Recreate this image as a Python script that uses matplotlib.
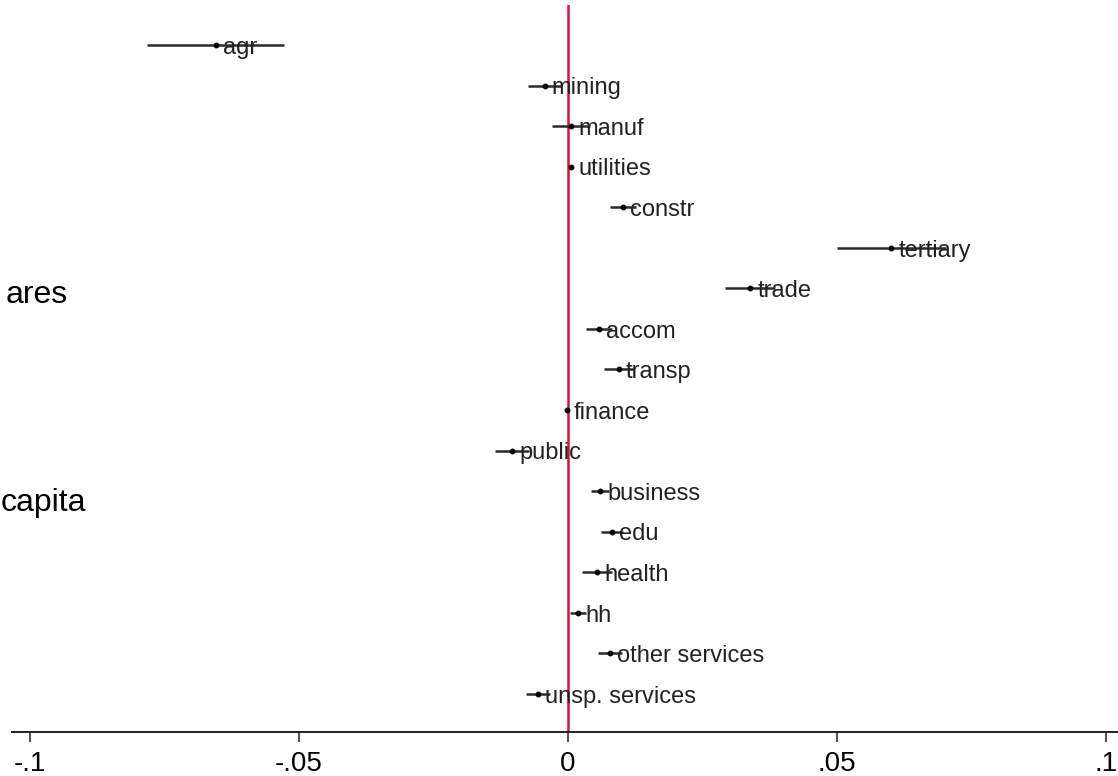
import matplotlib
matplotlib.use("Agg")
import matplotlib.pyplot as plt

plt.rcParams['font.family'] = ['Liberation Sans', 'DejaVu Sans']

labels = ["agr", "mining", "manuf", "utilities", "constr", "tertiary", "trade",
          "accom", "transp", "finance", "public", "business", "edu", "health",
          "hh", "other services", "unsp. services"]
coef = [-0.0655, -0.0043, 0.0006, 0.0006, 0.0102, 0.0601, 0.0339,
        0.0058, 0.0095, -0.0002, -0.0104, 0.0060, 0.0082, 0.0054,
        0.0019, 0.0078, -0.0056]
ci_lo = [-0.0783, -0.0074, -0.0030, 0.0003, 0.0078, 0.0500, 0.0292,
         0.0033, 0.0067, -0.0004, -0.0136, 0.0043, 0.0061, 0.0026,
         0.0004, 0.0056, -0.0078]
ci_hi = [-0.0527, -0.0011, 0.0040, 0.0009, 0.0126, 0.0702, 0.0385,
         0.0082, 0.0123, 0.0000, -0.0073, 0.0076, 0.0102, 0.0082,
         0.0033, 0.0100, -0.0033]
xticks = [-0.1, -0.05, 0, 0.05, 0.1]
xtick_labels = ["-.1", "-.05", "0", ".05", ".1"]
group_labels = ["ares", "capita"]

W, H = 1118, 776
fig = plt.figure(figsize=(W / 100, H / 100), dpi=100)
ax = fig.add_axes([12 / W, 1 - 732 / H, 1 - 12 / W, 727 / H])

rows = list(range(len(labels)))
ax.axvline(0, color="#d2163f", lw=1.8, zorder=1)
ax.hlines(rows, ci_lo, ci_hi, color="#2b2b2b", lw=1.8, zorder=2)
ax.plot(coef, rows, "o", color="black", ms=3.2, zorder=3)
for x, y, t in zip(coef, rows, labels):
    ax.annotate(t, (x, y), xytext=(5, -2), textcoords="offset points",
                ha="left", va="center", fontsize=17, color="#222222", zorder=4)

ax.set_xlim(-0.10335, 0.10223)
ax.set_ylim(16.94, -0.986)
ax.set_yticks([])
ax.set_xticks(xticks)
ax.set_xticklabels(xtick_labels, fontsize=20)
ax.tick_params(axis="x", length=7, width=1.2, pad=7, color="#333333")
for s in ["top", "left", "right"]:
    ax.spines[s].set_visible(False)
ax.spines["bottom"].set_linewidth(1.4)
ax.spines["bottom"].set_color("#222222")

fig.text(68 / W, 1 - 303 / H, group_labels[0], ha="right", va="baseline", fontsize=23)
fig.text(1 / W, 1 - 511 / H, group_labels[1], ha="left", va="baseline", fontsize=23)

fig.savefig("out.png", dpi=100)
